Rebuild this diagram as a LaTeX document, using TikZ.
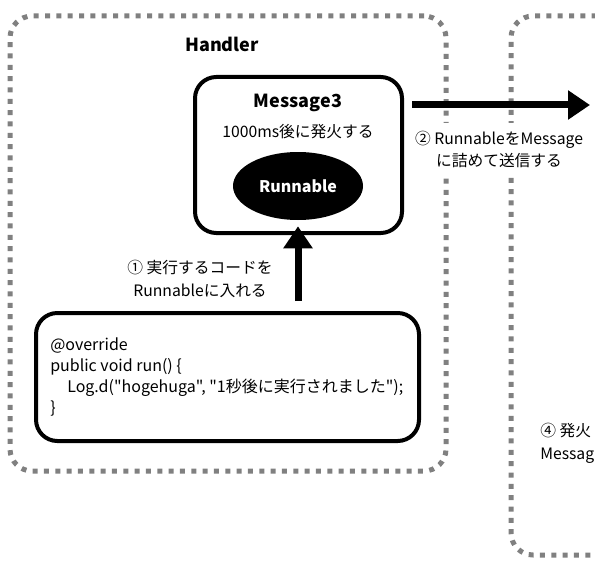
\documentclass[tikz,border=0pt]{standalone}
\usepackage{fontspec}
\setmainfont{Noto Sans CJK JP}[Ligatures=TeXOff]
\usetikzlibrary{arrows.meta,shapes.geometric}
\definecolor{dotgray}{RGB}{128,128,128}
\begin{document}
\begin{tikzpicture}[x=0.75pt,y=-0.75pt,
  container/.style={draw=dotgray, line width=3.75pt, dash pattern=on 3.75pt off 4.75pt, rounded corners=16.5pt, inner sep=0pt},
  box/.style={draw=black, line width=3pt, rounded corners=16pt, fill=white, inner sep=0pt},
  txt/.style={font=\fontsize{11.8}{17}\selectfont, inner sep=0pt},
  titletxt/.style={font=\bfseries\fontsize{13.5}{16}\selectfont, inner sep=0pt},
  bigarrow/.style={line width=5.25pt, -{Triangle[width=21pt,length=16.5pt]}},
]
\fill[white] (0,0) rectangle (595,563);
\useasboundingbox (0,0) rectangle (595,563);
\node[container, minimum width=327pt, minimum height=341.25pt] (handler) at (228,243.5) {};
\node[container, minimum width=216.75pt, minimum height=404.25pt] (right) at (655.5,285.5) {};
\node[titletxt] (htitle) at (222,44) {Handler};
\node[box, minimum width=155.25pt, minimum height=117pt] (msg) at (298.5,155) {};
\node[titletxt] (mtitle) at (298,103) {Message3};
\node[txt] (mdelay) at (298,132) {1000ms後に発火する};
\node[ellipse, fill=black, minimum width=97.5pt, minimum height=51pt, inner sep=0pt, text=white, font=\bfseries\fontsize{12}{14}\selectfont] (run) at (298,186) {Runnable};
\node[box, minimum width=287.25pt, minimum height=96pt] (code) at (227.5,377) {};
\node[txt, anchor=west, align=left, font=\fontsize{12}{15.75}\selectfont] (codetext) at (50,377) {@override\\public void run() \{\\\hspace*{12.75pt}Log.d("hogehuga", "1秒後に実行されました");\\\}};
\draw[bigarrow, shorten <=7.5pt, shorten >=4.5pt] (run.south |- code.north) -- (run.south);
\node[txt, align=center] (l1) at (200,279) {① 実行するコードを\\Runnableに入れる};
\coordinate (tip2) at (590,105);
\draw[bigarrow, shorten <=6pt] (msg.east |- tip2) -- (tip2);
\node[txt, align=center, fill=white, inner xsep=2pt, inner ysep=6pt] (l2) at (499,149.5) {② RunnableをMessage\\に詰めて送信する};
\node[txt, align=left, anchor=west] (l4) at (540,443) {④ 発火\\Messag};
\end{tikzpicture}
\end{document}
